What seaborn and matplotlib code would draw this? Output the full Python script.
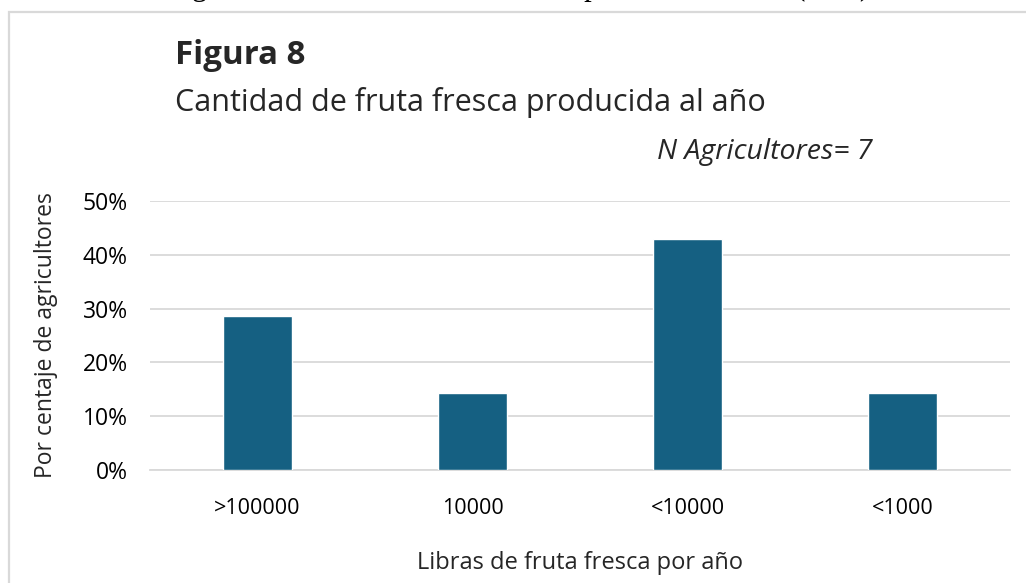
import matplotlib
matplotlib.use("Agg")
import matplotlib.pyplot as plt
import matplotlib.patches as mpatches
import seaborn as sns
import pandas as pd
from matplotlib.ticker import PercentFormatter

categories = [">100000", "10000", "<10000", "<1000"]
values = [2/7, 1/7, 3/7, 1/7]
yticks = [0, 0.1, 0.2, 0.3, 0.4, 0.5]

df = pd.DataFrame({"cat": categories, "val": values})

sns.set_theme(style="white")
plt.rcParams['font.family'] = ['Open Sans', 'DejaVu Sans']

W, H = 1026, 583
fig = plt.figure(figsize=(W/100, H/100), dpi=100)
fig.patch.set_facecolor("white")

# outer border (clipped)
border = mpatches.Rectangle((9/W, -0.2), 1.2, 1 - 12/H + 0.2, transform=fig.transFigure,
                            fill=False, edgecolor="#D9D9D9", linewidth=1.6, zorder=0)
fig.patches.append(border)

# clipped caption line at top
fig.text(481/W, 1 + 5/H, "Nota. Figura 8. Cantidad de fruta fresca producida al año (N=7)",
         ha="center", va="baseline", fontsize=22, family=["Liberation Serif", "DejaVu Serif"],
         color="black")

left, right, top, bottom = 150, 1010, 201, 470
ax = fig.add_axes([left/W, 1 - bottom/H, (right-left)/W, (bottom-top)/H])

sns.barplot(data=df, x="cat", y="val", color="#156082", width=0.32, ax=ax,
            saturation=1, zorder=3)

ax.set_xlim(-0.5, 3.5)
ax.set_ylim(0, 0.5)
ax.set_yticks(yticks)
ax.yaxis.set_major_formatter(PercentFormatter(1.0, decimals=0))
ax.grid(axis="y", color="#D9D9D9", linewidth=1.3, zorder=0)
ax.set_axisbelow(True)
for s in ["top", "right", "left"]:
    ax.spines[s].set_visible(False)
ax.spines["bottom"].set_color("#D9D9D9")
ax.spines["bottom"].set_linewidth(1.3)
ax.tick_params(axis="both", length=0, colors="black")
ax.tick_params(axis="y", pad=16, labelsize=16.5)
ax.tick_params(axis="x", pad=20, labelsize=15.5)
ax.set_xlabel("Libras de fruta fresca por año", fontsize=17)
ax.set_ylabel("Por centaje de agricultores", fontsize=16.5)
ax.xaxis.set_label_coords(0.5, (470 - 563) / 269)
ax.xaxis.label.set_va("center")
ax.yaxis.set_label_coords((46 - 150) / 860, 0.5)
ax.yaxis.label.set_va("center")

fig.text(175/W, 1 - 56/H, "Figura 8", fontsize=23.8, fontweight="bold", va="center", ha="left")
fig.text(175/W, 1 - 103/H, "Cantidad de fruta fresca producida al año", fontsize=22,
         va="center", ha="left")
fig.text(657/W, 1 - 152/H, "N Agricultores= 7", fontsize=20.5, fontstyle="italic",
         va="center", ha="left")

fig.savefig("out.png", dpi=100, facecolor="white")
